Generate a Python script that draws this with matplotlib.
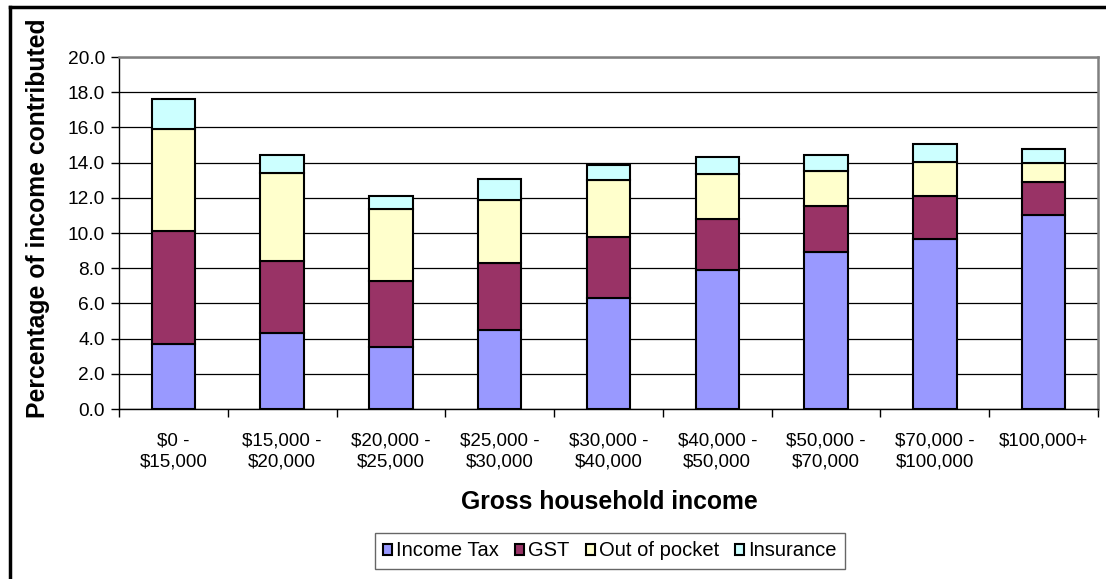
import matplotlib
matplotlib.use("Agg")
import matplotlib.pyplot as plt
from matplotlib.lines import Line2D
from matplotlib.ticker import FixedLocator
import numpy as np

plt.rcParams['font.family'] = ['Liberation Sans', 'DejaVu Sans']

categories = ["$0 -\n$15,000", "$15,000 -\n$20,000", "$20,000 -\n$25,000",
              "$25,000 -\n$30,000", "$30,000 -\n$40,000", "$40,000 -\n$50,000",
              "$50,000 -\n$70,000", "$70,000 -\n$100,000", "$100,000+"]
income_tax = [3.7, 4.3, 3.55, 4.5, 6.3, 7.9, 8.9, 9.65, 11.0]
gst = [6.4, 4.1, 3.75, 3.8, 3.45, 2.9, 2.65, 2.45, 1.9]
out_of_pocket = [5.8, 5.0, 4.05, 3.6, 3.25, 2.55, 1.95, 1.95, 1.1]
insurance = [1.7, 1.05, 0.75, 1.15, 0.85, 0.95, 0.95, 1.0, 0.8]
series_names = ["Income Tax", "GST", "Out of pocket", "Insurance"]
colors = ["#9999FF", "#993366", "#FFFFCC", "#CCFFFF"]
y_ticks = [0, 2, 4, 6, 8, 10, 12, 14, 16, 18, 20]

W, H = 1106, 579
fig = plt.figure(figsize=(W / 100, H / 100), dpi=100)
ax = fig.add_axes([119 / W, (H - 409) / H, (1098 - 119) / W, (409 - 57) / H])

x = np.arange(len(categories))
bottom = np.zeros(len(categories))
for name, vals, c in zip(series_names, [income_tax, gst, out_of_pocket, insurance], colors):
    ax.bar(x, vals, width=0.4, bottom=bottom, color=c, edgecolor='black',
           linewidth=1.5, label=name, zorder=3)
    bottom += np.array(vals)

ax.set_xlim(-0.5, len(categories) - 0.5)
ax.set_ylim(0, 20)
ax.set_yticks(y_ticks)
ax.set_yticklabels([f"{v:.1f}" for v in y_ticks])
ax.grid(axis='y', color='black', linewidth=0.9, zorder=0)
ax.set_axisbelow(True)

ax.set_xticks(x)
ax.set_xticklabels(categories, fontsize=13.5, linespacing=1.3)
ax.xaxis.set_minor_locator(FixedLocator(np.arange(-0.5, len(categories), 1)))
ax.tick_params(axis='x', which='major', length=0, pad=17)
ax.tick_params(axis='x', which='minor', length=6, width=1, direction='out')
ax.tick_params(axis='y', labelsize=13.8, length=6, width=1, direction='out', pad=4)

for s in ['top', 'right']:
    ax.spines[s].set_color('#808080')
    ax.spines[s].set_linewidth(1.8)
for s in ['left', 'bottom']:
    ax.spines[s].set_color('black')
    ax.spines[s].set_linewidth(1.0)

fig.text(38 / W, 1 - 218 / H, "Percentage of income contributed", rotation=90,
         fontsize=17.8, fontweight='bold', ha='center', va='center')
fig.text(609 / W, 1 - 502 / H, "Gross household income", fontsize=17.8,
         fontweight='bold', ha='center', va='center')

leg = fig.legend(loc='center', bbox_to_anchor=(610 / W, 1 - 551 / H), ncol=4,
                 fontsize=14.5, frameon=True, fancybox=False, shadow=False,
                 handlelength=0.45, handleheight=0.45, handletextpad=0.2,
                 columnspacing=0.8, borderpad=0.4, borderaxespad=0)
leg.get_frame().set_edgecolor('#404040')
leg.get_frame().set_linewidth(1.0)
for p in leg.get_patches():
    p.set_linewidth(1.5)

# outer chart border (top and left visible)
fig.add_artist(Line2D([10 / W, 1.0], [1 - 6.5 / H, 1 - 6.5 / H], color='black', linewidth=2.5,
                      transform=fig.transFigure))
fig.add_artist(Line2D([10 / W, 10 / W], [0, 1 - 6.5 / H], color='black', linewidth=2.5,
                      transform=fig.transFigure))

fig.savefig("out.png", dpi=100)
